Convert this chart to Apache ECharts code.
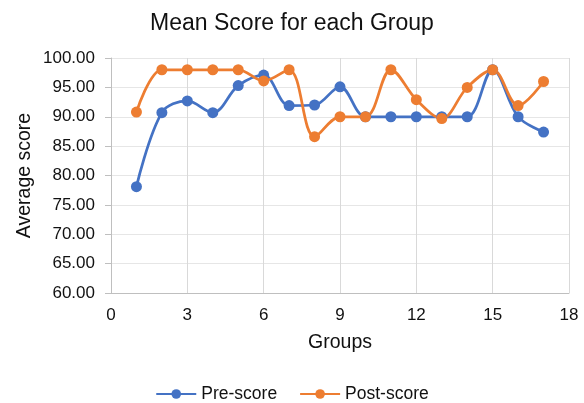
<!DOCTYPE html>
<html><head><meta charset="utf-8">
<script src="https://cdn.jsdelivr.net/npm/echarts@6/dist/echarts.min.js"></script>
<style>html,body{margin:0;padding:0;background:#fff}#c{width:584px;height:403px}</style>
</head><body><div id="c"></div>
<script>
const groups = [1,2,3,4,5,6,7,8,9,10,11,12,13,14,15,16,17];
const preScore = [78.1,90.7,92.7,90.7,95.3,97.1,91.9,92.0,95.1,90.0,90.0,90.0,90.0,90.0,98.0,90.0,87.4];
const postScore = [90.8,98.0,98.0,98.0,98.0,96.1,98.0,86.6,90.0,90.0,98.0,92.9,89.7,95.0,98.0,91.9,96.0];
const seriesNames = ['Pre-score','Post-score'];
const colors = ['#4472C4','#ED7D31'];
const font = 'Liberation Sans, Arial, sans-serif';
const chart = echarts.init(document.getElementById('c'));
function mk(name, vals, color){
  return {
    name, type:'line', smooth:0.35,
    data: groups.map((g,i)=>[g, vals[i]]),
    symbol:'circle', symbolSize:11,
    itemStyle:{color},
    lineStyle:{color, width:2.75}
  };
}
chart.setOption({
  animation:false,
  title:{text:'Mean Score for each Group', left:'center', top:7,
    textStyle:{fontFamily:font, fontSize:23, fontWeight:'normal', color:'#111'}},
  legend:{bottom:0, left:'center', padding:0, itemWidth:40, itemHeight:12, itemGap:22,
    textStyle:{fontFamily:font, fontSize:17.5, color:'#111'},
    data:seriesNames},
  grid:{left:111, right:15, top:58, bottom:110},
  xAxis:{type:'value', min:0, max:18, interval:3,
    name:'Groups', nameLocation:'middle', nameGap:40,
    nameTextStyle:{fontFamily:font, fontSize:19.5, color:'#111'},
    axisLine:{show:true, lineStyle:{color:'#bfbfbf'}},
    axisTick:{show:false},
    axisLabel:{fontFamily:font, fontSize:17, color:'#111', margin:14},
    splitLine:{show:true, lineStyle:{color:'#d9d9d9'}}},
  yAxis:{type:'value', min:60, max:100, interval:5,
    name:'Average score', nameLocation:'middle', nameGap:76, nameRotate:90,
    nameMoveOverlap:false,
    nameTextStyle:{fontFamily:font, fontSize:19.5, color:'#111'},
    axisLine:{show:true, lineStyle:{color:'#bfbfbf'}},
    axisTick:{show:true, length:6, lineStyle:{color:'#bfbfbf'}},
    axisLabel:{fontFamily:font, fontSize:17, color:'#111', margin:16,
      formatter:v=>v.toFixed(2)},
    splitLine:{show:true, lineStyle:{color:'#e6e6e6'}}},
  series:[mk(seriesNames[0], preScore, colors[0]), mk(seriesNames[1], postScore, colors[1])]
});
</script></body></html>
